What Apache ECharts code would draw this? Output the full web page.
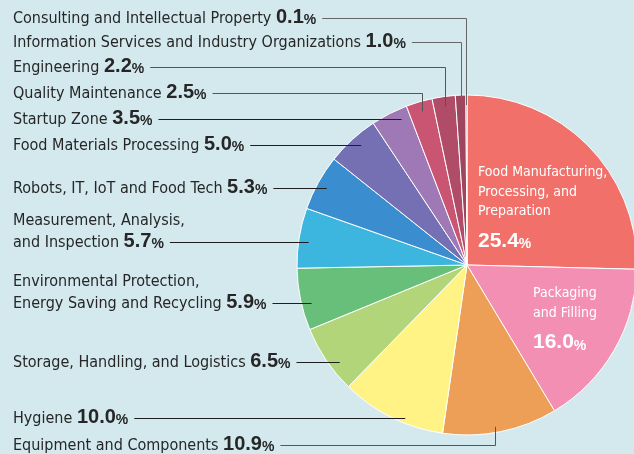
<!DOCTYPE html>
<html>
<head>
<meta charset="utf-8">
<script src="https://cdn.jsdelivr.net/npm/echarts@6/dist/echarts.min.js"></script>
<style>
html,body{margin:0;padding:0;background:#d3e9ee;}
#chart{width:634px;height:454px;}
</style>
</head>
<body>
<div id="chart"></div>
<script>
// ---- data ----
const categories = [
  'Food Manufacturing, Processing, and Preparation',
  'Packaging and Filling',
  'Equipment and Components',
  'Hygiene',
  'Storage, Handling, and Logistics',
  'Environmental Protection, Energy Saving and Recycling',
  'Measurement, Analysis, and Inspection',
  'Robots, IT, IoT and Food Tech',
  'Food Materials Processing',
  'Startup Zone',
  'Quality Maintenance',
  'Engineering',
  'Information Services and Industry Organizations',
  'Consulting and Intellectual Property'
];
const shares = [25.4, 16.0, 10.9, 10.0, 6.5, 5.9, 5.7, 5.3, 5.0, 3.5, 2.5, 2.2, 1.0, 0.1];
const labelTextLines = [
  ['Food Manufacturing,', 'Processing, and', 'Preparation'],
  ['Packaging', 'and Filling'],
  ['Equipment and Components'],
  ['Hygiene'],
  ['Storage, Handling, and Logistics'],
  ['Environmental Protection,', 'Energy Saving and Recycling'],
  ['Measurement, Analysis,', 'and Inspection'],
  ['Robots, IT, IoT and Food Tech'],
  ['Food Materials Processing'],
  ['Startup Zone'],
  ['Quality Maintenance'],
  ['Engineering'],
  ['Information Services and Industry Organizations'],
  ['Consulting and Intellectual Property']
];
const colors = ['#f1706a', '#f38fb2', '#ed9f58', '#fff385', '#b2d57a', '#67bf79', '#3cb5df', '#3a8ecf',
  '#7470b3', '#9f79b6', '#c95572', '#b04c67', '#9e4660', '#8a3d55'];

// ---- layout (label placement only) ----
const CX = 467, CY = 265, R = 170;
const labelY = [null, null, 445, 418, 362, 303, 242, 188, 145, 119, 93, 67, 42, 18];
const anchorR = [0, 0, 165, 165, 160, 160, 160, 160, 160, 160, 160, 160, 160, 160];
const lineColors = [null, null, '#555', '#1e1e1e', '#1e1e1e', '#1e1e1e', '#1e1e1e', '#1e1e1e', '#1e1e1e', '#1e1e1e', '#555', '#555', '#666', '#666'];

const total = shares.reduce((a, b) => a + b, 0);
const midAngle = shares.map((v, i) => {
  const before = shares.slice(0, i).reduce((a, b) => a + b, 0);
  return (before + v / 2) / total * Math.PI * 2; // clockwise from top
});

const outFont = '"DejaVu Sans Condensed", "DejaVu Sans", sans-serif';
const inFont = '"DejaVu Sans Condensed", "DejaVu Sans", sans-serif';
const numFont = '"Liberation Sans", Arial, sans-serif';
const T_SIZE = 16, N_SIZE = 20, P_SIZE = 14;

const mctx = document.createElement('canvas').getContext('2d');
function textW(str, size, fam, bold) {
  mctx.font = (bold ? 'bold ' : '') + size + 'px ' + fam;
  return mctx.measureText(str).width;
}
function lastLineWidth(i) {
  const lines = labelTextLines[i];
  return textW(lines[lines.length - 1] + ' ', T_SIZE, outFont, false) +
    textW(shares[i].toFixed(1), N_SIZE, numFont, true) + textW('%', P_SIZE, numFont, true);
}

function outsideFormatter(i) {
  const lines = labelTextLines[i];
  return lines.map((l, k) => k === lines.length - 1
    ? '{t|' + l + ' }{n|' + shares[i].toFixed(1) + '}{p|%}'
    : '{t|' + l + '}').join('\n');
}
function insideFormatter(i) {
  return labelTextLines[i].map(l => '{w|' + l + '}').join('\n') + '\n{wn|' + shares[i].toFixed(1) + '}{wp|%}';
}

// visible pie (no labels)
const pieData = shares.map((v, i) => ({
  name: categories[i], value: v, itemStyle: { color: colors[i] }
}));
// overlay pie carrying labels & leader lines (drawn above the slices)
const labelData = shares.map((v, i) => {
  const inside = labelY[i] == null;
  return {
    name: categories[i],
    value: v,
    label: { show: true, position: inside ? 'inside' : 'outside', formatter: inside ? insideFormatter(i) : outsideFormatter(i) },
    labelLine: { show: !inside, lineStyle: { color: lineColors[i] || '#222', width: 1 } }
  };
});

const chart = echarts.init(document.getElementById('chart'), null, { renderer: 'canvas' });
chart.setOption({
  backgroundColor: '#d3e9ee',
  animation: false,
  series: [{
    type: 'pie',
    z: 2,
    center: [CX, CY],
    radius: [0, R],
    startAngle: 90,
    clockwise: true,
    silent: true,
    label: { show: false },
    labelLine: { show: false },
    itemStyle: { borderColor: '#ffffff', borderWidth: 1 },
    data: pieData
  }, {
    type: 'pie',
    z: 5,
    center: [CX, CY],
    radius: [0, R],
    startAngle: 90,
    clockwise: true,
    silent: true,
    avoidLabelOverlap: false,
    itemStyle: { color: 'rgba(0,0,0,0)', borderWidth: 0 },
    label: {
      rich: {
        t: { fontFamily: outFont, fontSize: T_SIZE, color: '#262626', lineHeight: 22, verticalAlign: 'bottom' },
        n: { fontFamily: numFont, fontSize: N_SIZE, fontWeight: 'bold', color: '#262626', lineHeight: 22, verticalAlign: 'bottom' },
        p: { fontFamily: numFont, fontSize: P_SIZE, fontWeight: 'bold', color: '#262626', lineHeight: 22, verticalAlign: 'bottom' },
        w: { fontFamily: inFont, fontSize: 14, color: '#ffffff', lineHeight: 19.5 },
        wn: { fontFamily: numFont, fontSize: 21, fontWeight: 'bold', color: '#ffffff', lineHeight: 30, verticalAlign: 'bottom' },
        wp: { fontFamily: numFont, fontSize: 14, fontWeight: 'bold', color: '#ffffff', lineHeight: 30, verticalAlign: 'bottom' }
      }
    },
    labelLine: { show: true, length: 10, length2: 10 },
    labelLayout: function (p) {
      const i = p.dataIndex;
      if (labelY[i] == null) {
        if (i === 0) return { x: CX + 11, y: CY - 102, align: 'left', verticalAlign: 'top' };
        return { x: CX + 66, y: CY + 19, align: 'left', verticalAlign: 'top' };
      }
      const y = labelY[i];
      const ly = y + 0.5;
      const lx = 13;
      const endX = lx + lastLineWidth(i) + 6;
      const a = midAngle[i];
      let pts;
      if (i >= 10) {
        const ax = Math.round(CX + Math.sin(a) * anchorR[i]) + 0.5, ay = CY - Math.cos(a) * anchorR[i];
        pts = [[ax, ay], [ax, ly], [endX, ly]];
      } else if (i === 2) {
        const ax = Math.round(CX + Math.sin(a) * 140) + 0.5, ay = CY - Math.cos(a) * anchorR[i];
        pts = [[ax, ay], [ax, ly], [endX, ly]];
      } else {
        const dy = y - CY;
        const ax = CX - Math.sqrt(anchorR[i] * anchorR[i] - dy * dy);
        pts = [[ax, ly], [ax, ly], [endX, ly]];
      }
      return { x: lx, y: y + 9, align: 'left', verticalAlign: 'bottom', labelLinePoints: pts };
    },
    data: labelData
  }]
});
</script>
</body>
</html>
